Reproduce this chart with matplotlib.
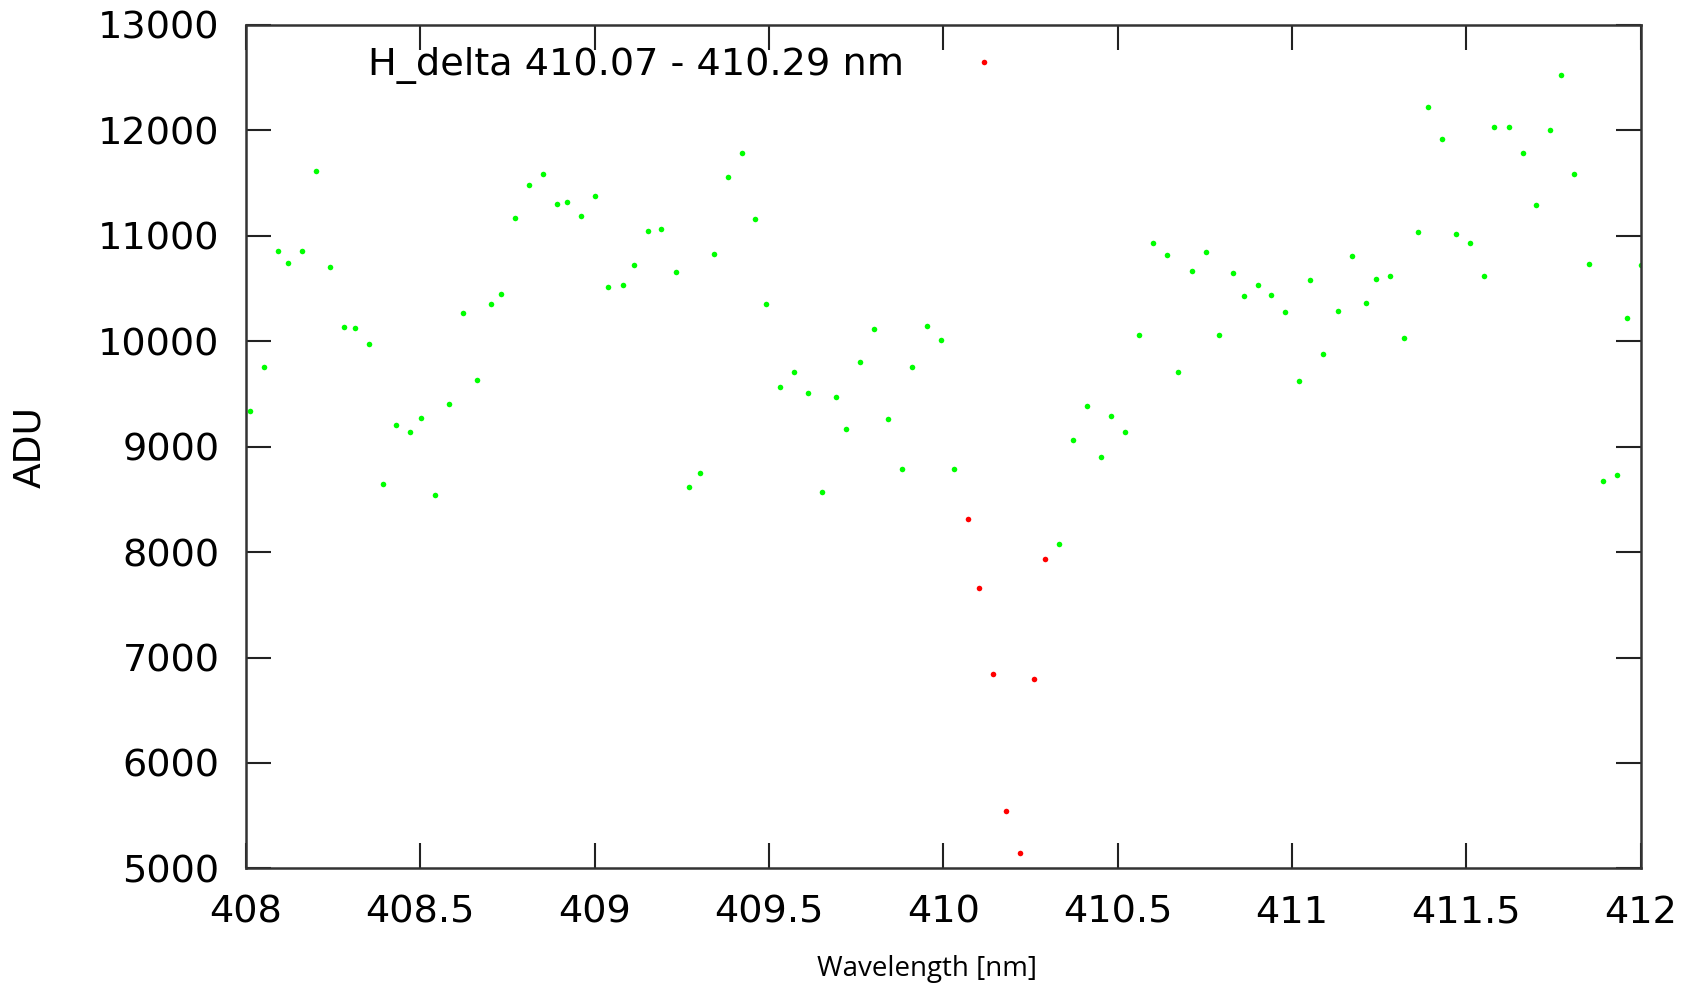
import numpy as np
import matplotlib
matplotlib.use("Agg")
import matplotlib.pyplot as plt

# wavelength [nm] and counts [ADU]
wl_cont = [408.011, 408.052, 408.092, 408.121, 408.162, 408.202, 408.242, 408.282, 408.312, 408.352,
           408.392, 408.431, 408.471, 408.502, 408.541, 408.581, 408.622, 408.662, 408.702, 408.731,
           408.772, 408.812, 408.851, 408.891, 408.922, 408.962, 409.002, 409.039, 409.081, 409.112,
           409.152, 409.191, 409.232, 409.272, 409.302, 409.342, 409.382, 409.422, 409.461, 409.492,
           409.532, 409.572, 409.611, 409.651, 409.692, 409.721, 409.761, 409.802, 409.842, 409.882,
           409.911, 409.952, 409.992, 410.031,
           410.331, 410.371, 410.412, 410.452, 410.481, 410.522, 410.562, 410.602, 410.641, 410.672,
           410.712, 410.752, 410.791, 410.831, 410.862, 410.901, 410.941, 410.981, 411.021, 411.051,
           411.090, 411.131, 411.171, 411.211, 411.242, 411.281, 411.321, 411.360, 411.391, 411.431,
           411.470, 411.510, 411.551, 411.580, 411.621, 411.661, 411.701, 411.741, 411.770, 411.810,
           411.851, 411.891, 411.931, 411.962, 412.001]
adu_cont = [9341, 9756, 10853, 10740, 10859, 11615, 10702, 10132, 10126, 9977,
            8649, 9206, 9139, 9272, 8539, 9402, 10268, 9630, 10354, 10448,
            11167, 11480, 11590, 11299, 11324, 11191, 11375, 10512, 10537, 10724,
            11046, 11062, 10660, 8620, 8747, 10825, 11561, 11786, 11157, 10356,
            9569, 9711, 9512, 8573, 9471, 9170, 9806, 10113, 9263, 8791,
            9759, 10145, 10012, 8785,
            8079, 9066, 9389, 8902, 9288, 9136, 10062, 10929, 10818, 9708,
            10664, 10844, 10062, 10650, 10429, 10537, 10442, 10275, 9623, 10581,
            9882, 10287, 10809, 10363, 10591, 10616, 10028, 11039, 12225, 11919,
            11020, 10932, 10622, 12033, 12033, 11783, 11293, 12001, 12526, 11590,
            10730, 8674, 8731, 10218, 10723]

# H delta line
wl_line = [410.071, 410.102, 410.142, 410.181, 410.221, 410.261, 410.291]
adu_line = [8318, 7659, 6843, 5546, 5148, 6793, 7931]

xticks = [408, 408.5, 409, 409.5, 410, 410.5, 411, 411.5, 412]
xticklabels = ['408', '408.5', '409', '409.5', '410', '410.5', '411', '411.5', '412']
yticks = np.arange(5000, 13001, 1000)

fig = plt.figure(figsize=(17.02, 9.88), dpi=100)
ax = fig.add_axes([0.1445, 0.1211, 0.8195, 0.8536])

ax.plot(wl_cont, adu_cont, ls='none', marker='o', ms=4.0, mew=0, color='#00ff00')
ax.plot(wl_line, adu_line, ls='none', marker='o', ms=4.0, mew=0, color='#ff0000',
        label='H_delta 410.07 - 410.29 nm')

ax.set_xlim(408, 412)
ax.set_ylim(5000, 13000)
ax.set_xticks(xticks)
ax.set_xticklabels(xticklabels)
ax.set_yticks(yticks)
ax.tick_params(direction='in', length=18, width=1.5, top=True, right=True,
               labelsize=27.5, pad=19, colors='#222222', labelcolor='black')
for s in ax.spines.values():
    s.set_linewidth(1.8)
    s.set_color('#333333')

ax.set_ylabel('ADU', fontsize=27)
ax.yaxis.set_label_coords(-0.142, 0.5)
fig.text(927 / 1702, 1 - 969 / 988, 'Wavelength [nm]', family='Open Sans',
         fontsize=20, ha='center', va='center')

ax.legend(loc='center right', bbox_to_anchor=(1022 / 1702, 1 - 66 / 988),
          bbox_transform=fig.transFigure, frameon=False, markerfirst=False,
          fontsize=27.5, handlelength=2.0, handletextpad=1.1, borderpad=0,
          borderaxespad=0)

fig.savefig('out.png', dpi=100)
